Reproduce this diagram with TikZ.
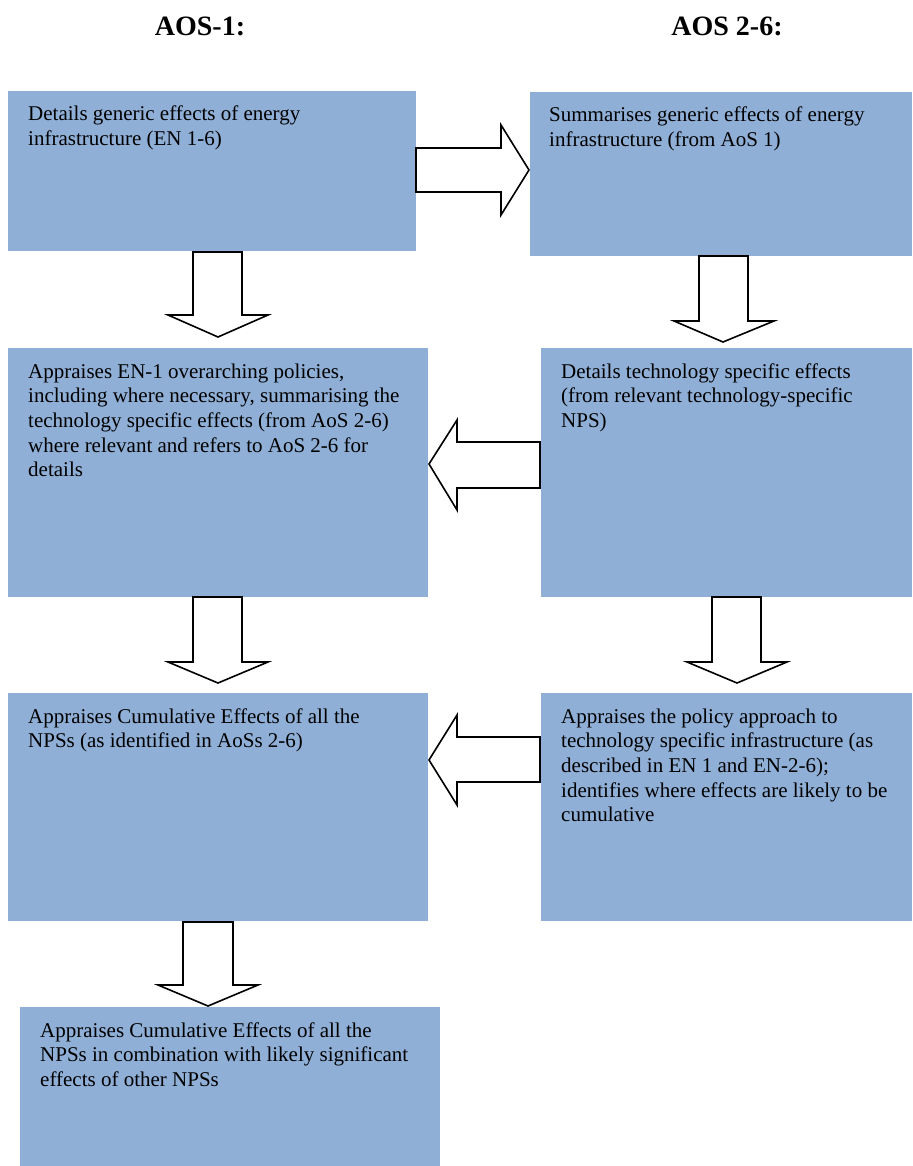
\documentclass[tikz,border=0pt]{standalone}
\usepackage{fontspec}
\setmainfont{Liberation Serif}
\definecolor{boxblue}{RGB}{143,175,215}
\tikzset{
  bluebox/.style={fill=boxblue, draw=none},
  blockarrow/.style={draw=black, fill=white, line width=1.6pt, line join=miter},
  boxtext/.style={anchor=base west, inner sep=0pt, font=\fontsize{21}{24.7}\selectfont},
  heading/.style={anchor=base, inner sep=0pt, font=\fontsize{28}{32}\selectfont\bfseries}
}
\newcommand{\linesof}[1]{\begin{tabular}[t]{@{}l@{}}#1\end{tabular}}
\begin{document}
\begin{tikzpicture}[x=1pt,y=-1pt]
\useasboundingbox (0,0) rectangle (912,1166);

% headings
\node[heading] (h1) at (200,36) {AOS-1:};
\node[heading] (h2) at (727,36) {AOS 2-6:};

% boxes
\path[bluebox] (8,91) rectangle (416,251);
\coordinate (b1) at (8,91);
\path[bluebox] (530,92) rectangle (912,256);
\path[bluebox] (8,348) rectangle (428,597);
\path[bluebox] (541,348) rectangle (912,597);
\path[bluebox] (8,693) rectangle (428,921);
\path[bluebox] (541,693) rectangle (912,921);
\path[bluebox] (20,1007) rectangle (440,1166);

% texts
\node[boxtext] (t1) at (28,121) {\linesof{Details generic effects of energy\\infrastructure (EN 1-6)}};
\node[boxtext] (t2) at (549,122) {\linesof{Summarises generic effects of energy\\infrastructure (from AoS 1)}};
\node[boxtext] (t3) at (28,378) {\linesof{Appraises EN-1 overarching policies,\\including where necessary, summarising the\\technology specific effects (from AoS 2-6)\\where relevant and refers to AoS 2-6 for\\details}};
\node[boxtext] (t4) at (561,378) {\linesof{Details technology specific effects\\(from relevant technology-specific\\NPS)}};
\node[boxtext] (t5) at (28,723) {\linesof{Appraises Cumulative Effects of all the\\NPSs (as identified in AoSs 2-6)}};
\node[boxtext] (t6) at (561,723) {\linesof{Appraises the policy approach to\\technology specific infrastructure (as\\described in EN 1 and EN-2-6);\\identifies where effects are likely to be\\cumulative}};
\node[boxtext] (t7) at (40,1037) {\linesof{Appraises Cumulative Effects of all the\\NPSs in combination with likely significant\\effects of other NPSs}};

% right arrow (box1 -> box2)
\draw[blockarrow] (416,148) -- (501,148) -- (501,125) -- (529,170) -- (501,215) -- (501,192) -- (416,192) -- cycle;

% down arrows
\draw[blockarrow] (193,252) -- (242,252) -- (242,315) -- (268,315) -- (218,337) -- (168,315) -- (193,315) -- cycle;
\draw[blockarrow] (699,256) -- (748,256) -- (748,321) -- (774,321) -- (723,342) -- (674,321) -- (699,321) -- cycle;
\draw[blockarrow] (193,597) -- (242,597) -- (242,662) -- (268,662) -- (218,683) -- (168,662) -- (193,662) -- cycle;
\draw[blockarrow] (712,597) -- (761,597) -- (761,662) -- (787,662) -- (737,683) -- (687,662) -- (712,662) -- cycle;
\draw[blockarrow] (183,922) -- (233,922) -- (233,985) -- (258,985) -- (208,1006) -- (158,985) -- (183,985) -- cycle;

% left arrows
\draw[blockarrow] (540,442) -- (457,442) -- (457,420) -- (429,464) -- (457,510) -- (457,488) -- (540,488) -- cycle;
\draw[blockarrow] (540,737) -- (457,737) -- (457,715) -- (429,760) -- (457,805) -- (457,782) -- (540,782) -- cycle;
\end{tikzpicture}
\end{document}
